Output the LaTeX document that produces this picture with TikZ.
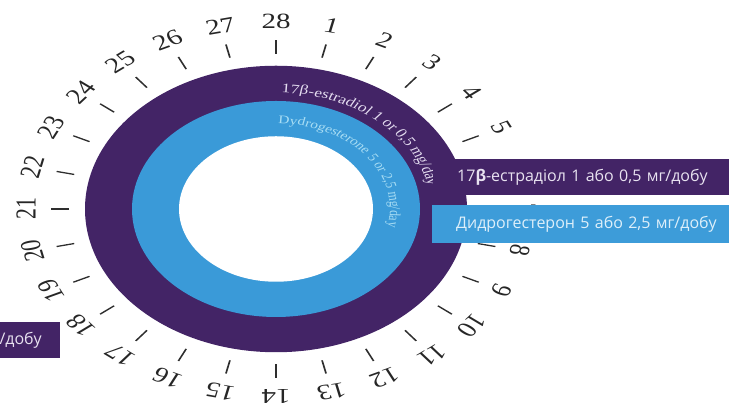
\documentclass[tikz,border=0pt]{standalone}
\usepackage{fontspec}
\setmainfont{Liberation Serif}
\newfontfamily\boxfont{Open Sans}
\usetikzlibrary{decorations.text}

\definecolor{ringpurple}{HTML}{432466}
\definecolor{ringblue}{HTML}{3A9AD8}
\definecolor{boxblue}{HTML}{3D9CD9}
\definecolor{tickgray}{HTML}{2E2E2E}
\definecolor{lavtext}{HTML}{E4DCF0}
\definecolor{skytext}{HTML}{A8DDF4}
\definecolor{boxtext}{HTML}{E8E2F0}
\definecolor{boxbluetext}{HTML}{DDEFFA}

\tikzset{
  daynum/.style={font=\fontsize{29}{29}\selectfont,text=black!85,inner sep=0pt},
  daytick/.style={tickgray,line width=1.7pt},
  dosebox/.style={anchor=north west,minimum height=36pt,inner xsep=24pt,
    text width=290pt,align=left,font=\boxfont\fontsize{16}{18}\selectfont},
  estrbox/.style={dosebox,fill=ringpurple,text=boxtext},
  dydrobox/.style={dosebox,fill=boxblue,text=boxbluetext,minimum height=38pt},
  cutbox/.style={anchor=east,fill=ringpurple,text=boxtext,minimum height=36pt,
    inner xsep=18pt,font=\boxfont\fontsize{16}{18}\selectfont},
}

\begin{document}
\begin{tikzpicture}[x=1pt,y=1pt]
  \useasboundingbox (0,0) rectangle (729,403);
  % cycle ring, squashed like the source
  \begin{scope}[transform canvas={yscale=0.75},shift={(276,258.67)}]
    \fill[ringpurple] (0,0) circle[radius=191];
    \fill[ringblue] (0,0) circle[radius=144];
    \fill[white] (0,0) circle[radius=97];
    \foreach \d in {1,...,28} {
      \pgfmathsetmacro\ang{90-\d*360/28}
      \draw[daytick] (\ang:207) -- (\ang:225);
      \node[daynum,rotate=\ang-90] (day\d) at (\ang:250) {\d};
    }
    \path[decorate,decoration={text along path,text color=lavtext,
      text={|\fontsize{17.5}{17.5}\selectfont|17β-estradiol 1 or 0,5 mg/day}}]
      (88:155) arc[start angle=88,end angle=-20,radius=155];
    \path[decorate,decoration={text along path,text color=skytext,
      text={|\fontsize{15.5}{15.5}\selectfont|Dydrogesterone 5 or 2,5 mg/day}}]
      (89:114) arc[start angle=89,end angle=-40,radius=114];
  \end{scope}
  % dose labels
  \node[estrbox] (estr) at (433,244) {17\textbf{β}-естрадіол 1 або 0,5 мг/добу};
  \node[dydrobox] (dydro) at (432,198) {Дидрогестерон 5 або 2,5 мг/добу};
  \node[cutbox] (cut) at (60,63) {/добу};
\end{tikzpicture}
\end{document}
